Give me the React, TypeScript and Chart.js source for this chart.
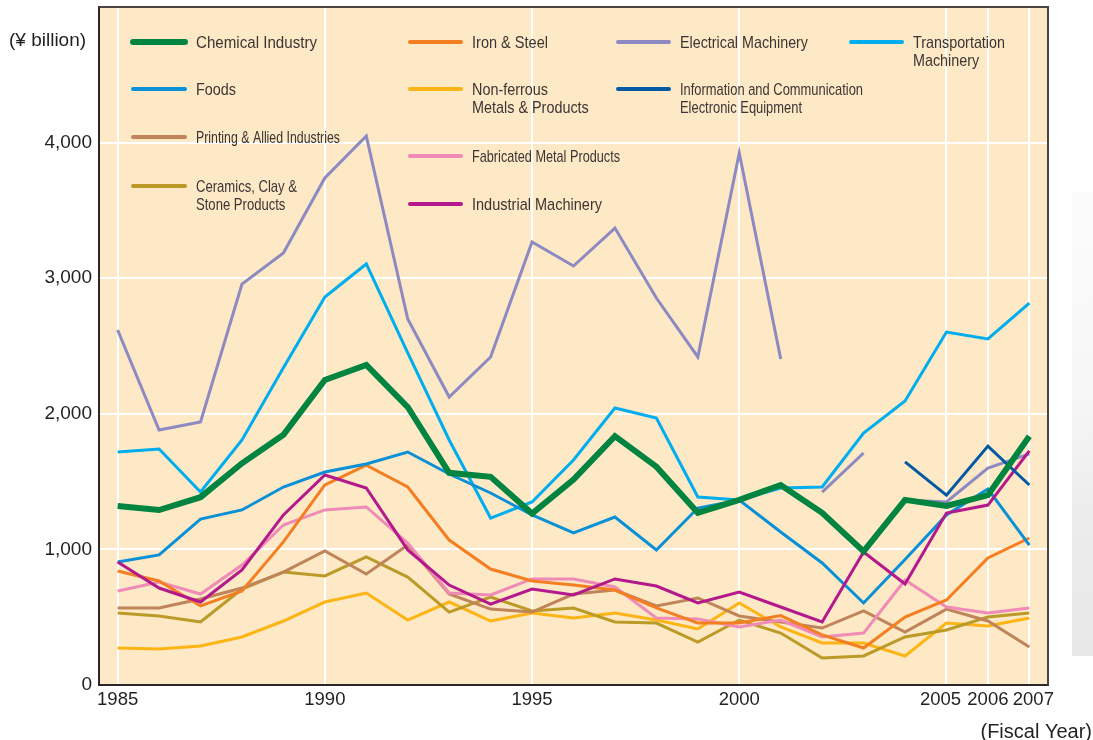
import React, { useEffect, useRef } from "react";
import { Chart, registerables } from "chart.js";

Chart.register(...registerables);

// ---------- DATA ----------
const years = [1985, 1986, 1987, 1988, 1989, 1990, 1991, 1992, 1993, 1994, 1995, 1996, 1997, 1998, 1999, 2000, 2001, 2002, 2003, 2004, 2005, 2006, 2007];
const xTickYears = [1985, 1990, 1995, 2000, 2005, 2006, 2007];
const yTickValues = [0, 1000, 2000, 3000, 4000, 5000];

const chemical = [1320, 1290, 1385, 1635, 1845, 2250, 2360, 2050, 1565, 1535, 1265, 1515, 1835, 1610, 1270, 1365, 1475, 1270, 985, 1365, 1320, 1400, 1835];
const foods = [907, 959, 1224, 1291, 1460, 1571, 1630, 1718, 1556, 1416, 1254, 1121, 1239, 996, 1305, 1364, 1128, 900, 605, 925, 1254, 1445, 1032];
const printing = [568, 568, 634, 715, 833, 988, 819, 1032, 671, 560, 538, 671, 700, 583, 642, 509, 465, 420, 546, 391, 560, 472, 280];
const ceramics = [531, 509, 465, 708, 833, 804, 944, 796, 538, 649, 546, 568, 465, 457, 317, 479, 383, 199, 214, 354, 406, 501, 531];
const ironSteel = [841, 767, 583, 693, 1055, 1475, 1622, 1460, 1069, 855, 767, 737, 700, 568, 457, 457, 512, 369, 273, 501, 627, 937, 1084];
const nonFerrous = [273, 265, 288, 354, 472, 612, 678, 479, 612, 472, 531, 494, 531, 479, 413, 605, 428, 310, 310, 214, 457, 435, 494];
const fabricated = [693, 760, 671, 885, 1180, 1291, 1313, 1047, 678, 664, 782, 782, 723, 494, 487, 428, 479, 354, 383, 774, 575, 531, 568];
const industrial = [907, 715, 612, 848, 1254, 1549, 1453, 996, 737, 597, 708, 664, 782, 730, 605, 686, 575, 465, 981, 745, 1268, 1327, 1726];
const electrical = [2618, 1880, 1940, 2957, 3186, 3739, 4049, 2699, 2124, 2419, 3267, 3090, 3370, 2854, 2419, 3923, 2404, 1423, 1711, 1365, 1350, 1600, 1704];
const electricalBreakAfter = [2001, 2003]; // series reclassified: no line joins these years to the next
const infoComm = [null, null, null, null, null, null, null, null, null, null, null, null, null, null, null, null, null, null, null, 1645, 1400, 1762, 1475];
const transport = [1718, 1740, 1423, 1807, 2340, 2861, 3105, 2450, 1807, 1231, 1350, 1659, 2043, 1969, 1386, 1364, 1453, 1460, 1858, 2094, 2603, 2552, 2817];

const seriesLabels = {
  chemical: ["Chemical Industry"],
  foods: ["Foods"],
  printing: ["Printing & Allied Industries"],
  ceramics: ["Ceramics, Clay &", "Stone Products"],
  ironSteel: ["Iron & Steel"],
  nonFerrous: ["Non-ferrous", "Metals & Products"],
  fabricated: ["Fabricated Metal Products"],
  industrial: ["Industrial Machinery"],
  electrical: ["Electrical Machinery"],
  infoComm: ["Information and Communication", "Electronic Equipment"],
  transport: ["Transportation", "Machinery"],
};

// ---------- STYLE ----------
const colors = {
  chemical: "#00843F",
  foods: "#0A90D6",
  printing: "#C0845A",
  ceramics: "#BC9A27",
  ironSteel: "#F47F22",
  nonFerrous: "#FDB515",
  fabricated: "#F08BB8",
  industrial: "#B3198C",
  electrical: "#8D89C3",
  infoComm: "#0459A5",
  transport: "#00ADEE",
};
const BG = "#FDE9C5";
const TEXT = "#231F20";
const SANS = "'Liberation Sans', Arial, Helvetica, sans-serif";
const LEGEND_FONT = "17px " + SANS;

// legend layout: [key, lineX0, lineX1, textX, lineY, first-line width (condensed type)]
const legendLayout: [string, number, number, number, number, number][] = [
  ["chemical", 133, 185, 196, 42, 121],
  ["foods", 133, 185, 196, 89, 40],
  ["printing", 133, 185, 196, 137, 144],
  ["ceramics", 133, 185, 196, 186, 101],
  ["ironSteel", 410, 461, 472, 42, 76],
  ["nonFerrous", 410, 461, 472, 89, 76],
  ["fabricated", 410, 461, 472, 156, 148],
  ["industrial", 410, 461, 472, 204, 130],
  ["electrical", 618, 669, 680, 42, 128],
  ["infoComm", 618, 669, 680, 89, 183],
  ["transport", 851, 902, 913, 42, 92],
];
const xLabelShift: Record<number, number> = { 2005: -6, 2007: 4 };

const toPoints = (arr: (number | null)[]) => arr.map((v, i) => ({ x: years[i], y: v }));

export default function App() {
  const ref = useRef<HTMLCanvasElement | null>(null);

  useEffect(() => {
    if (!ref.current) return;

    const mk = (key: string, data: (number | null)[], width = 3, extra: any = {}) => ({
      label: seriesLabels[key as keyof typeof seriesLabels].join(" "),
      data: toPoints(data),
      borderColor: colors[key as keyof typeof colors],
      backgroundColor: colors[key as keyof typeof colors],
      borderWidth: width,
      pointRadius: 0,
      pointHoverRadius: 0,
      tension: 0,
      fill: false,
      spanGaps: false,
      borderJoinStyle: "miter" as const,
      ...extra,
    });

    const bgPlugin = {
      id: "bgPlugin",
      beforeDraw(chart: any) {
        const { ctx, chartArea: a } = chart;
        ctx.save();
        ctx.fillStyle = BG;
        ctx.fillRect(a.left, a.top, a.right - a.left, a.bottom - a.top);
        // faint photo edge at the far right
        const g = ctx.createLinearGradient(0, 190, 0, 656);
        g.addColorStop(0, "rgba(252,252,252,1)");
        g.addColorStop(0.45, "rgba(246,246,247,1)");
        g.addColorStop(0.7, "rgba(236,236,236,1)");
        g.addColorStop(1, "rgba(232,232,232,1)");
        ctx.fillStyle = g;
        ctx.fillRect(1072, 192, 21, 464);
        ctx.restore();
      },
      beforeDatasetsDraw(chart: any) {
        const { ctx } = chart;
        ctx.save();
        ctx.font = LEGEND_FONT;
        ctx.textBaseline = "middle";
        ctx.textAlign = "left";
        for (const [key, x0, x1, tx, y, w] of legendLayout) {
          ctx.strokeStyle = colors[key as keyof typeof colors];
          ctx.lineWidth = key === "chemical" ? 6 : 4;
          ctx.lineCap = "round";
          ctx.beginPath();
          ctx.moveTo(x0, y);
          ctx.lineTo(x1, y);
          ctx.stroke();
          ctx.fillStyle = "#3B3534";
          const lines = seriesLabels[key as keyof typeof seriesLabels];
          const sx = w / ctx.measureText(lines[0]).width;
          lines.forEach((t, i) => {
            ctx.save();
            ctx.translate(tx, y + 1 + i * 18);
            ctx.scale(sx, 1);
            ctx.fillText(t, 0, 0);
            ctx.restore();
          });
        }
        ctx.restore();
      },
      afterDraw(chart: any) {
        const { ctx, chartArea: a, scales } = chart;
        ctx.save();
        ctx.strokeStyle = "#4A4340";
        ctx.lineWidth = 2;
        ctx.beginPath();
        ctx.moveTo(a.left, a.top);
        ctx.lineTo(a.right, a.top);
        ctx.lineTo(a.right, a.bottom);
        ctx.stroke();
        // x tick labels (drawn at the scale's own tick positions)
        ctx.fillStyle = TEXT;
        ctx.font = "18.5px " + SANS;
        ctx.textBaseline = "middle";
        ctx.textAlign = "center";
        for (const yr of xTickYears) {
          const px = scales.x.getPixelForValue(yr) + (xLabelShift[yr] || 0);
          ctx.fillText(String(yr), px, 700);
        }
        ctx.textAlign = "left";
        ctx.font = "19px " + SANS;
        ctx.fillText("(¥ billion)", 9, 41);
        ctx.textAlign = "right";
        ctx.font = "20px " + SANS;
        ctx.fillText("(Fiscal Year)", 1092, 732);
        ctx.restore();
      },
    };

    const chart = new Chart(ref.current, {
      type: "line",
      data: {
        datasets: [
          mk("chemical", chemical, 6),
          mk("infoComm", infoComm),
          mk("industrial", industrial),
          mk("foods", foods),
          mk("ironSteel", ironSteel),
          mk("fabricated", fabricated),
          mk("printing", printing),
          mk("ceramics", ceramics),
          mk("nonFerrous", nonFerrous),
          mk("transport", transport),
          mk("electrical", electrical, 3, {
            segment: {
              borderColor: (c: any) =>
                electricalBreakAfter.includes(years[c.p0DataIndex]) ? "rgba(0,0,0,0)" : colors.electrical,
            },
          }),
        ],
      },
      options: {
        responsive: false,
        animation: false,
        devicePixelRatio: 1,
        layout: { padding: { top: 7, right: 45, left: 0, bottom: 0 } },
        plugins: { legend: { display: false }, tooltip: { enabled: false }, title: { display: false } },
        scales: {
          x: {
            type: "linear",
            min: 1984.55,
            max: 2007.45,
            afterBuildTicks: (s: any) => {
              s.ticks = xTickYears.map((v) => ({ value: v }));
            },
            afterFit: (s: any) => {
              s.height = 55;
              s.paddingLeft = 0;
              s.paddingRight = 0;
            },
            grid: { color: "#FFFFFF", lineWidth: 2, drawTicks: false },
            border: { display: true, color: "#2B2728", width: 2 },
            ticks: { display: false, autoSkip: false, maxRotation: 0 },
          },
          y: {
            type: "linear",
            min: 0,
            max: 5000,
            afterBuildTicks: (s: any) => {
              s.ticks = yTickValues.map((v) => ({ value: v }));
            },
            afterFit: (s: any) => {
              s.width = 99;
              s.paddingTop = 0;
              s.paddingBottom = 0;
            },
            grid: { color: "#FFFFFF", lineWidth: 2, drawTicks: false },
            border: { display: true, color: "#2B2728", width: 2 },
            ticks: {
              padding: 7,
              color: TEXT,
              font: { family: SANS, size: 19 },
              callback: (v: any) => (v === 5000 ? "" : Number(v).toLocaleString("en-US")),
            },
          },
        },
      },
      plugins: [bgPlugin],
    });

    return () => chart.destroy();
  }, []);

  return (
    <div style={{ position: "absolute", left: 0, top: 0, width: 1093, height: 740, background: "#fff" }}>
      <canvas ref={ref} width={1093} height={740} style={{ display: "block" }} />
    </div>
  );
}
